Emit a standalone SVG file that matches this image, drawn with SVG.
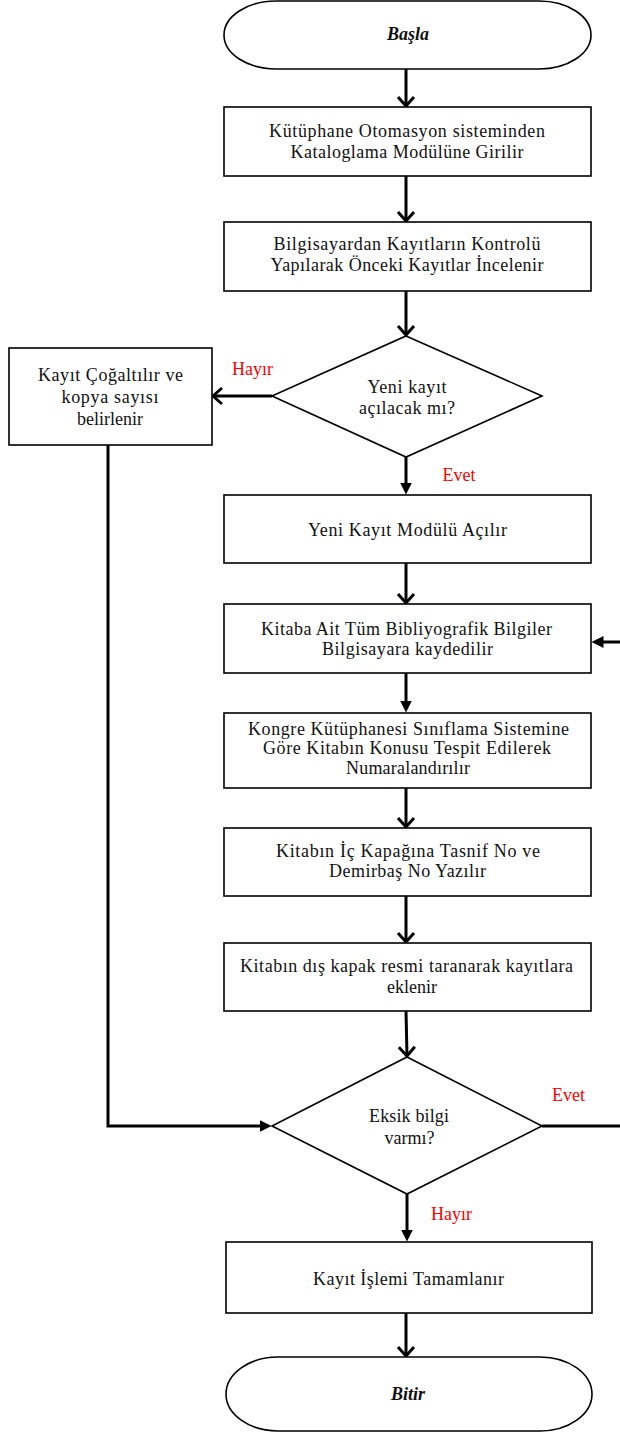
<svg xmlns="http://www.w3.org/2000/svg" width="620" height="1433" viewBox="0 0 620 1433">
<style>
.box{fill:#fff;stroke:#000;stroke-width:1.6}
.t{font-family:"Liberation Serif","Times New Roman",serif;font-size:18px;fill:#111;text-anchor:middle}
.ti{font-family:"Liberation Serif","Times New Roman",serif;font-size:18px;font-weight:bold;font-style:italic;fill:#111;text-anchor:middle}
.lbl{font-family:"Liberation Serif","Times New Roman",serif;font-size:18px;fill:#ff0000;text-anchor:middle}
.c{fill:none;stroke:#000;stroke-width:3}
</style>
<defs>
<marker id="open" markerUnits="userSpaceOnUse" markerWidth="14" markerHeight="20" viewBox="0 0 14 20" refX="11" refY="10" orient="auto">
<path d="M2,2 L11,10 L2,18" fill="none" stroke="#000" stroke-width="3"/>
</marker>
<marker id="fill" markerUnits="userSpaceOnUse" markerWidth="12" markerHeight="12" viewBox="0 0 12 12" refX="0.5" refY="6" orient="auto">
<path d="M0,0 L12,6 L0,12 Z" fill="#000"/>
</marker>
</defs>
<g id="connectors">
<path class="c" d="M406,69 V106" marker-end="url(#open)"/>
<path class="c" d="M406,176 V221" marker-end="url(#open)"/>
<path class="c" d="M406,291 V335" marker-end="url(#open)"/>
<path class="c" d="M272,396 H213" marker-end="url(#open)"/>
<path class="c" d="M406,457 V483" marker-end="url(#fill)"/>
<path class="c" d="M406,563 V603" marker-end="url(#open)"/>
<path class="c" d="M406,673 V701" marker-end="url(#fill)"/>
<path class="c" d="M406,788 V827" marker-end="url(#open)"/>
<path class="c" d="M406,896 V942" marker-end="url(#open)"/>
<path class="c" d="M406,1011 L407,1056" marker-end="url(#open)"/>
<path class="c" d="M108,445 V1126 H260" marker-end="url(#fill)"/>
<path class="c" d="M542,1126 H623 V642 H603" marker-end="url(#fill)"/>
<path class="c" d="M407,1194 V1230" marker-end="url(#fill)"/>
<path class="c" d="M406,1313 V1356" marker-end="url(#open)"/>
</g>
<g id="start">
<rect class="box" x="224" y="1" width="367" height="68" rx="52" ry="34"/>
<text class="ti" x="408" y="40">Başla</text>
</g>
<g id="box1">
<rect class="box" x="224" y="107" width="367" height="69"/>
<text class="t" x="407" y="137" textLength="276" lengthAdjust="spacing">Kütüphane Otomasyon sisteminden</text>
<text class="t" x="407" y="158" textLength="233" lengthAdjust="spacing">Kataloglama Modülüne Girilir</text>
</g>
<g id="box2">
<rect class="box" x="224" y="222" width="367" height="69"/>
<text class="t" x="407" y="249.5" textLength="267" lengthAdjust="spacing">Bilgisayardan Kayıtların Kontrolü</text>
<text class="t" x="407" y="270.5" textLength="273" lengthAdjust="spacing">Yapılarak Önceki Kayıtlar İncelenir</text>
</g>
<g id="decision1">
<polygon class="box" points="406,336 542,396 406,457 272,396"/>
<text class="t" x="407" y="393" textLength="79" lengthAdjust="spacing">Yeni kayıt</text>
<text class="t" x="407" y="414" textLength="96" lengthAdjust="spacing">açılacak mı?</text>
<text class="lbl" x="252.5" y="374.5">Hayır</text>
<text class="lbl" x="459" y="481">Evet</text>
</g>
<g id="leftbox">
<rect class="box" x="9" y="348" width="203" height="97"/>
<text class="t" x="110.5" y="381" textLength="145" lengthAdjust="spacing">Kayıt Çoğaltılır ve</text>
<text class="t" x="110" y="403" textLength="97" lengthAdjust="spacing">kopya sayısı</text>
<text class="t" x="110" y="424.5">belirlenir</text>
</g>
<g id="box3">
<rect class="box" x="224" y="495" width="367" height="68"/>
<text class="t" x="407.5" y="535.5" textLength="199" lengthAdjust="spacing">Yeni Kayıt Modülü Açılır</text>
</g>
<g id="box4">
<rect class="box" x="224" y="604" width="367" height="69"/>
<text class="t" x="406.5" y="635" textLength="291" lengthAdjust="spacing">Kitaba Ait Tüm Bibliyografik Bilgiler</text>
<text class="t" x="407.5" y="655" textLength="171" lengthAdjust="spacing">Bilgisayara kaydedilir</text>
</g>
<g id="box5">
<rect class="box" x="224" y="713" width="367" height="75"/>
<text class="t" x="408.5" y="735" textLength="321" lengthAdjust="spacing">Kongre Kütüphanesi Sınıflama Sistemine</text>
<text class="t" x="407" y="754" textLength="288" lengthAdjust="spacing">Göre Kitabın Konusu Tespit Edilerek</text>
<text class="t" x="408" y="773.5" textLength="124" lengthAdjust="spacing">Numaralandırılır</text>
</g>
<g id="box6">
<rect class="box" x="224" y="828" width="367" height="68"/>
<text class="t" x="408" y="856.5" textLength="264" lengthAdjust="spacing">Kitabın İç Kapağına Tasnif No ve</text>
<text class="t" x="407.5" y="877" textLength="157" lengthAdjust="spacing">Demirbaş No Yazılır</text>
</g>
<g id="box7">
<rect class="box" x="224" y="943" width="367" height="68"/>
<text class="t" x="406.5" y="972" textLength="333" lengthAdjust="spacing">Kitabın dış kapak resmi taranarak kayıtlara</text>
<text class="t" x="412" y="992.5">eklenir</text>
</g>
<g id="decision2">
<polygon class="box" points="407,1057 542,1126 407,1194 272,1126"/>
<text class="t" x="409" y="1122" textLength="80" lengthAdjust="spacing">Eksik bilgi</text>
<text class="t" x="409.5" y="1143.5">varmı?</text>
<text class="lbl" x="568.5" y="1101">Evet</text>
<text class="lbl" x="451.5" y="1220">Hayır</text>
</g>
<g id="box8">
<rect class="box" x="226" y="1242" width="366" height="71"/>
<text class="t" x="408.5" y="1285" textLength="191" lengthAdjust="spacing">Kayıt İşlemi Tamamlanır</text>
</g>
<g id="end">
<rect class="box" x="226" y="1357" width="366" height="74" rx="52" ry="37"/>
<text class="ti" x="408" y="1400">Bitir</text>
</g>
</svg>
